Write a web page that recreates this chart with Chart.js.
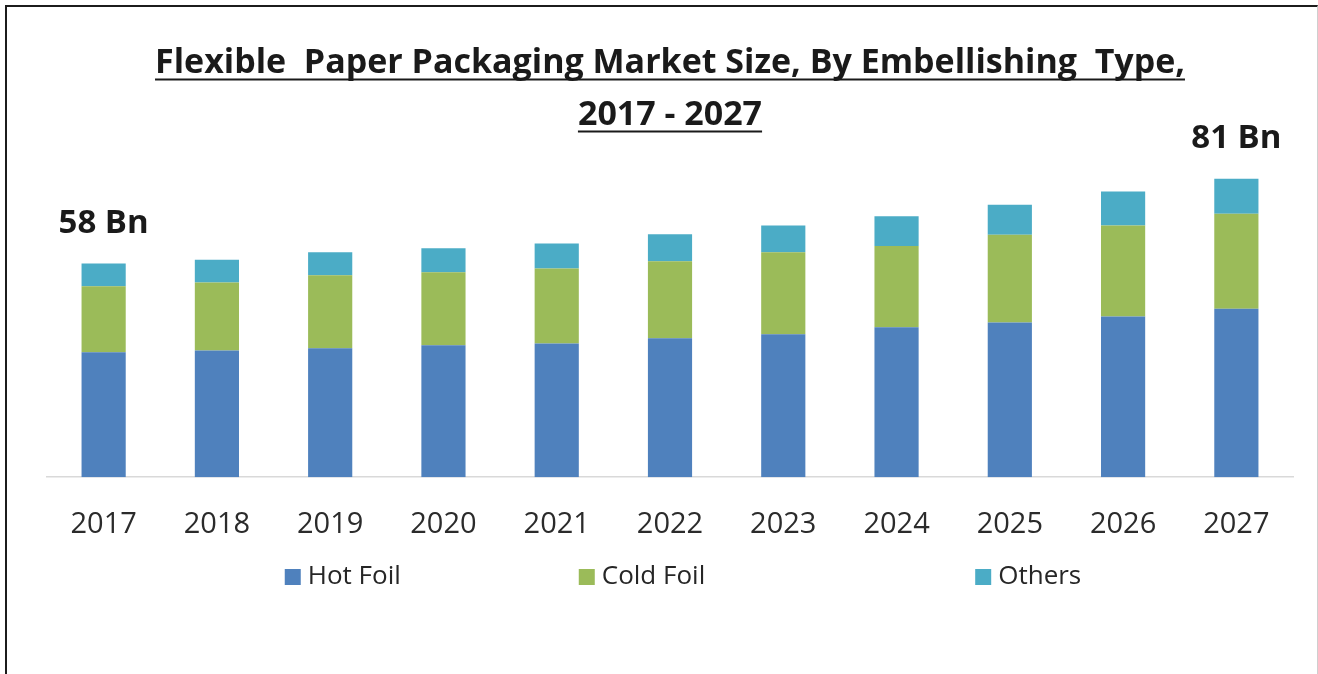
<!DOCTYPE html>
<html><head><meta charset="utf-8">
<script src="https://cdn.jsdelivr.net/npm/chart.js@4.4.0/dist/chart.umd.min.js"></script>
<style>
html,body{margin:0;padding:0;background:#fff;width:1318px;height:674px;overflow:hidden;}
#frame{position:absolute;left:5px;top:5px;width:1313px;height:680px;border-left:2px solid #1c1c1c;border-top:2px solid #1c1c1c;border-right:1px solid #cfcfcf;box-sizing:border-box;}
#c{position:absolute;left:0;top:0;}
</style></head><body>
<div id="frame"></div>
<canvas id="c" width="1318" height="674"></canvas>
<script>
const years = ["2017","2018","2019","2020","2021","2022","2023","2024","2025","2026","2027"];
const hotFoil  = [33.9, 34.4, 35.0, 35.8, 36.3, 37.7, 38.8, 40.7, 42.0, 43.6, 45.7];
const coldFoil = [17.9, 18.4, 19.8, 19.8, 20.3, 20.9, 22.2, 22.0, 23.8, 24.7, 25.8];
const others   = [ 6.2,  6.2,  6.2,  6.5,  6.8,  7.3,  7.3,  8.1,  8.1,  9.2,  9.5];
const totalLabels = ["58 Bn","","","","","","","","","","81 Bn"];
const seriesNames = ["Hot Foil","Cold Foil","Others"];
const seriesColors = ["#4f81bd","#9bbb59","#4bacc6"];
const titleLines = ["Flexible  Paper Packaging Market Size, By Embellishing  Type,", "2017 - 2027"];

const decor = {
  id: 'decor',
  afterDraw(chart) {
    const ctx = chart.ctx;
    const t = chart.titleBlock;
    const f = Chart.helpers.toFont(t.options.font);
    ctx.save();
    // title underline
    ctx.font = f.string;
    ctx.strokeStyle = '#1a1a1a';
    ctx.lineWidth = 2;
    const cx = (t.left + t.right) / 2;
    const padTop = t._padding ? t._padding.top : 0;
    titleLines.forEach((line, i) => {
      const yMid = t.top + padTop + f.lineHeight / 2 + i * f.lineHeight;
      const w = ctx.measureText(line.trim()).width;
      const y = Math.round(yMid + f.size * 0.47) + 0.5;
      ctx.beginPath(); ctx.moveTo(cx - w / 2, y); ctx.lineTo(cx + w / 2, y); ctx.stroke();
    });
    // total labels above first & last bars
    const meta = chart.getDatasetMeta(2);
    ctx.font = 'bold 33px "Open Sans"';
    ctx.fillStyle = '#1a1a1a';
    ctx.textAlign = 'center';
    ctx.textBaseline = 'middle';
    meta.data.forEach((bar, i) => {
      if (totalLabels[i]) ctx.fillText(totalLabels[i], bar.x, bar.y - 40);
    });
    // legend (Excel-like uneven spacing between entries)
    const box = 16, gap = 7, itemGaps = [178, 270];
    ctx.font = '26px "Open Sans"';
    const widths = seriesNames.map(n => box + gap + ctx.measureText(n).width);
    const total = widths.reduce((a, b) => a + b, 0) + itemGaps.reduce((a, b) => a + b, 0);
    const area = chart.chartArea;
    let x = (area.left + area.right) / 2 + 13 - total / 2;
    const ly = chart.height - 97;
    ctx.textAlign = 'left';
    seriesNames.forEach((n, i) => {
      ctx.fillStyle = seriesColors[i];
      ctx.fillRect(x, ly - box / 2, box, box);
      ctx.fillStyle = '#262626';
      ctx.fillText(n, x + box + gap, ly);
      x += widths[i] + (itemGaps[i] || 0);
    });
    ctx.restore();
  }
};

const datasets = [hotFoil, coldFoil, others].map((d, i) => ({
  label: seriesNames[i],
  data: d,
  backgroundColor: seriesColors[i],
  borderWidth: 0,
  barPercentage: 0.39,
  categoryPercentage: 1.0
}));

new Chart(document.getElementById('c'), {
  type: 'bar',
  data: { labels: years, datasets },
  options: {
    responsive: false,
    animation: false,
    layout: { padding: { top: 37, left: 47, right: 25, bottom: 102 } },
    plugins: {
      legend: { display: false },
      tooltip: { enabled: false },
      title: {
        display: true,
        text: titleLines,
        color: '#1a1a1a',
        font: { family: 'Open Sans', size: 34, weight: 'bold', lineHeight: 1.53 },
        padding: { top: 0, bottom: 7 }
      }
    },
    scales: {
      x: {
        stacked: true,
        grid: { display: false, drawTicks: false },
        border: { display: true, color: '#d9d9d9', width: 1.5 },
        ticks: { color: '#2b2b2b', font: { family: 'Open Sans', size: 29 }, padding: 30 }
      },
      y: { stacked: true, display: false, min: 0, max: 89.3 }
    }
  },
  plugins: [decor]
});
</script>
</body></html>
